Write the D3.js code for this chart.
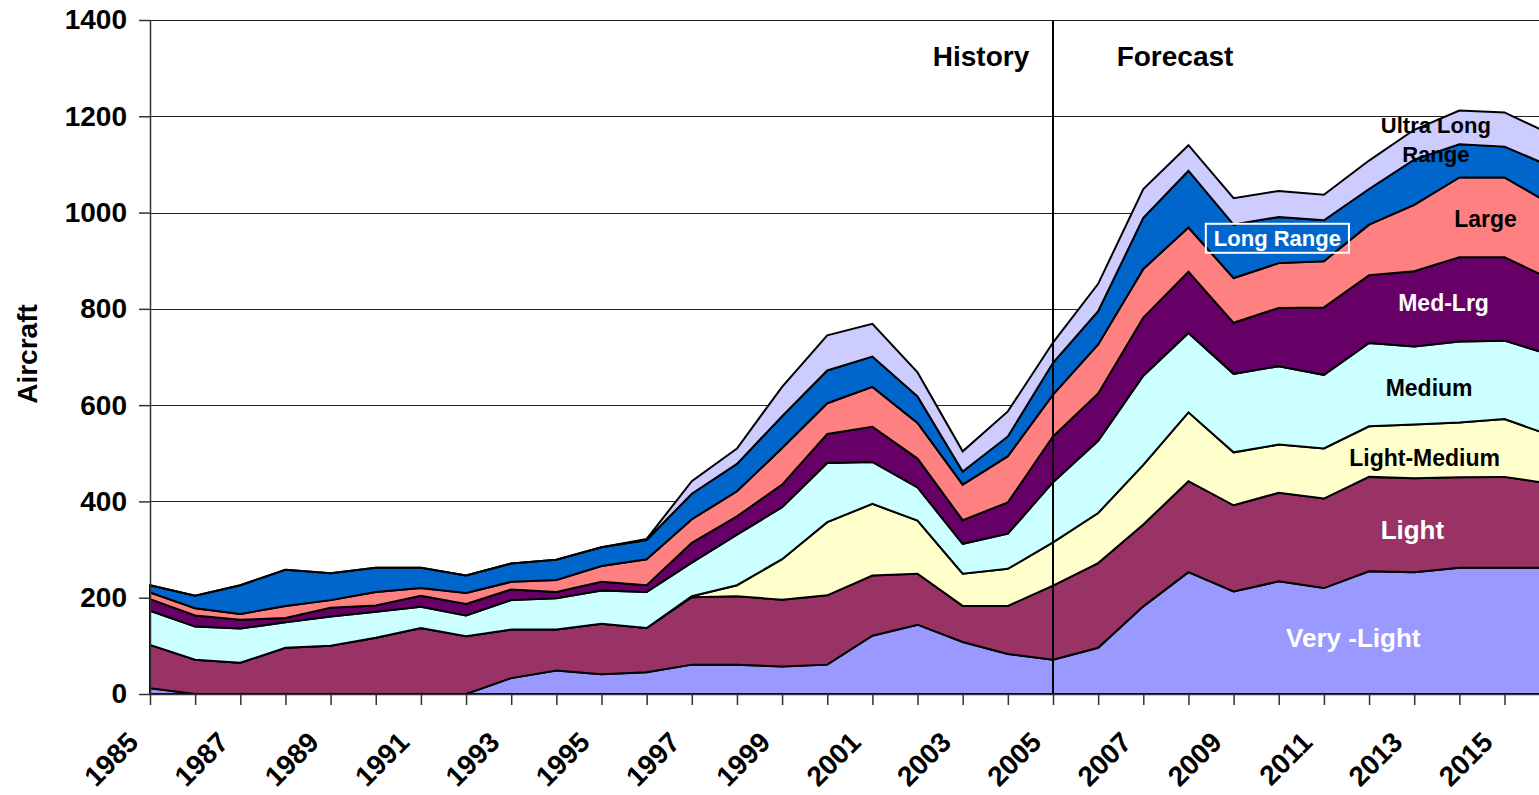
<!DOCTYPE html>
<html>
<head>
<meta charset="utf-8">
<script src="https://cdn.jsdelivr.net/npm/d3@7"></script>
<style>
	body { margin: 0; background: #fff; }
	svg { display: block; font-family: Arial, "Liberation Sans", sans-serif; font-weight: bold; }
</style>
</head>
<body>
<div id="chartDiv"></div>
<script>
// data, one value per year 1985..2016
var years = d3.range(1985, 2017);

var veryLight   = [12, 0, 0, 0, 0, 0, 0, 0, 33, 49, 41, 45, 61, 61, 57, 61, 121, 144, 108, 83, 71, 96, 182, 253, 213, 234, 220, 255, 253, 262, 262, 262];
var light       = [90, 71, 65, 96, 100, 117, 137, 120, 101, 85, 105, 92, 140, 142, 139, 144, 125, 106, 75, 100, 154, 176, 170, 189, 179, 184, 186, 196, 195, 188, 189, 175];
var lightMedium = [0, 0, 0, 0, 0, 0, 0, 0, 0, 0, 0, 0, 2, 23, 84, 152, 149, 110, 67, 77, 90, 104, 124, 143, 110, 100, 104, 105, 112, 114, 120, 101];
var medium      = [71, 69, 71, 53, 61, 54, 44, 43, 61, 65, 69, 75, 70, 105, 108, 123, 87, 69, 62, 73, 125, 150, 185, 165, 163, 163, 153, 173, 162, 168, 163, 167];
var medLrg      = [24, 23, 18, 9, 18, 13, 23, 24, 22, 13, 18, 14, 41, 38, 47, 60, 73, 60, 49, 65, 95, 98, 121, 127, 106, 121, 140, 141, 156, 175, 173, 158];
var large       = [14, 15, 12, 25, 16, 28, 16, 23, 16, 25, 33, 54, 49, 52, 76, 64, 83, 74, 74, 96, 87, 102, 101, 92, 93, 93, 96, 105, 138, 166, 166, 156];
var longRange   = [15, 26, 60, 75, 56, 50, 42, 36, 38, 42, 39, 40, 53, 57, 66, 68, 63, 55, 27, 41, 66, 69, 106, 118, 111, 96, 85, 74, 94, 69, 64, 78];
var ultraLong   = [0, 0, 0, 0, 0, 0, 0, 0, 0, 0, 0, 2, 26, 32, 61, 73, 68, 50, 42, 52, 42, 57, 60, 53, 55, 54, 53, 59, 62, 70, 71, 67];

var seriesNames = ["Very -Light", "Light", "Light-Medium", "Medium", "Med-Lrg", "Large", "Long Range", "Ultra Long Range"];
var seriesValues = [veryLight, light, lightMedium, medium, medLrg, large, longRange, ultraLong];
var seriesColors = ["#9999FF", "#993366", "#FFFFCC", "#CCFFFF", "#660066", "#FF8080", "#0066CC", "#CCCCFF"];

var yTickValues = [0, 200, 400, 600, 800, 1000, 1200, 1400];
var xTickLabels = ["1985", "1987", "1989", "1991", "1993", "1995", "1997", "1999",
                   "2001", "2003", "2005", "2007", "2009", "2011", "2013", "2015"];

var splitYear = 2005;

function drawChart() {
	document.getElementById("chartDiv").innerHTML = "";

	var width = 1539, height = 795;
	var left = 150, top = 20, bottom = 694;

	var x = d3.scaleLinear().domain([1985, 2016]).range([left, left + 31 * 45.15]);
	var y = d3.scaleLinear().domain([0, 1400]).range([bottom, top]);

	var svg = d3.select("#chartDiv").append("svg")
		.attr("width", width)
		.attr("height", height);

	// table for the stack layout
	var table = years.map(function(yr, i) {
		var row = {year: yr};
		seriesNames.forEach(function(name, s) { row[name] = seriesValues[s][i]; });
		return row;
	});

	//horizontal gridlines
	svg.append("g")
		.selectAll("line")
		.data(yTickValues.filter(function(v) { return v > 0; }))
		.enter().append("line")
		.attr("x1", left)
		.attr("x2", width)
		.attr("y1", function(d) { return Math.round(y(d)) + 0.5; })
		.attr("y2", function(d) { return Math.round(y(d)) + 0.5; })
		.attr("stroke", "#222")
		.attr("stroke-width", 1);

	var stacked = d3.stack().keys(seriesNames)(table);

	var area = d3.area()
		.x(function(d) { return x(d.data.year); })
		.y0(function(d) { return y(d[0]); })
		.y1(function(d) { return y(d[1]); });

	svg.append("g")
		.selectAll("path")
		.data(stacked)
		.enter().append("path")
		.attr("d", area)
		.attr("fill", function(d, i) { return seriesColors[i]; })
		.attr("stroke", "#000")
		.attr("stroke-width", 2)
		.attr("stroke-linejoin", "miter");

	// y axis
	var yAxis = svg.append("g")
		.attr("transform", "translate(" + left + ",0)")
		.call(d3.axisLeft(y).tickValues(yTickValues).tickFormat(d3.format("d"))
			.tickSize(11).tickSizeOuter(0).tickPadding(12));
	yAxis.selectAll("text")
		.attr("font-size", 28)
		.attr("font-family", "Arial, 'Liberation Sans', sans-serif")
		.attr("font-weight", "bold")
		.attr("fill", "#000");
	yAxis.selectAll("line, path").attr("stroke", "#333").attr("stroke-width", 1.5);

	// x axis, a tick every year, labels every second year
	var xAxis = svg.append("g")
		.attr("transform", "translate(0," + bottom + ")")
		.call(d3.axisBottom(x).tickValues(years).tickSize(11).tickSizeOuter(0).tickFormat(""));
	xAxis.selectAll("line, path").attr("stroke", "#333").attr("stroke-width", 1.5);

	svg.append("g")
		.selectAll("text")
		.data(xTickLabels)
		.enter().append("text")
		.attr("transform", function(d) {
			return "translate(" + (x(+d) - 10) + ",744) rotate(-45)";
		})
		.attr("text-anchor", "end")
		.attr("font-size", 28)
		.text(function(d) { return d; });

	// history / forecast split
	svg.append("line")
		.attr("x1", x(splitYear))
		.attr("x2", x(splitYear))
		.attr("y1", top)
		.attr("y2", bottom)
		.attr("stroke", "#000")
		.attr("stroke-width", 2);

	svg.append("text")
		.attr("x", x(splitYear) - 72)
		.attr("y", 66)
		.attr("text-anchor", "middle")
		.attr("font-size", 28)
		.text("History");

	svg.append("text")
		.attr("x", x(splitYear) + 122)
		.attr("y", 66)
		.attr("text-anchor", "middle")
		.attr("font-size", 28)
		.text("Forecast");

	// y title
	svg.append("text")
		.attr("transform", "translate(37,354) rotate(-90)")
		.attr("text-anchor", "middle")
		.attr("font-size", 28)
		.text("Aircraft");

	// series labels placed in data units
	var labels = [
		{text: "Ultra Long", yr: 2013.48, v: 1165, size: 22, color: "#000"},
		{text: "Range", yr: 2013.48, v: 1106, size: 22, color: "#000"},
		{text: "Large", yr: 2014.58, v: 971, size: 23, color: "#000"},
		{text: "Long Range", yr: 2009.97, v: 931, size: 22, color: "#fff", box: true},
		{text: "Med-Lrg", yr: 2013.65, v: 796, size: 23, color: "#fff"},
		{text: "Medium", yr: 2013.33, v: 618, size: 23, color: "#000"},
		{text: "Light-Medium", yr: 2013.23, v: 474, size: 23, color: "#000"},
		{text: "Light", yr: 2012.96, v: 321, size: 26, color: "#fff"},
		{text: "Very -Light", yr: 2011.65, v: 98, size: 26, color: "#fff"}
	];

	labels.forEach(function(l) {
		var t = svg.append("text")
			.attr("x", x(l.yr))
			.attr("y", y(l.v))
			.attr("text-anchor", "middle")
			.attr("font-size", l.size)
			.attr("fill", l.color)
			.text(l.text);
		if (l.box) {
			var bb = t.node().getBBox();
			svg.insert("rect", function() { return t.node(); })
				.attr("x", bb.x - 8)
				.attr("y", bb.y - 2)
				.attr("width", bb.width + 16)
				.attr("height", bb.height + 4)
				.attr("fill", "none")
				.attr("stroke", "#fff")
				.attr("stroke-width", 2);
		}
	});
}

drawChart();
</script>
</body>
</html>
